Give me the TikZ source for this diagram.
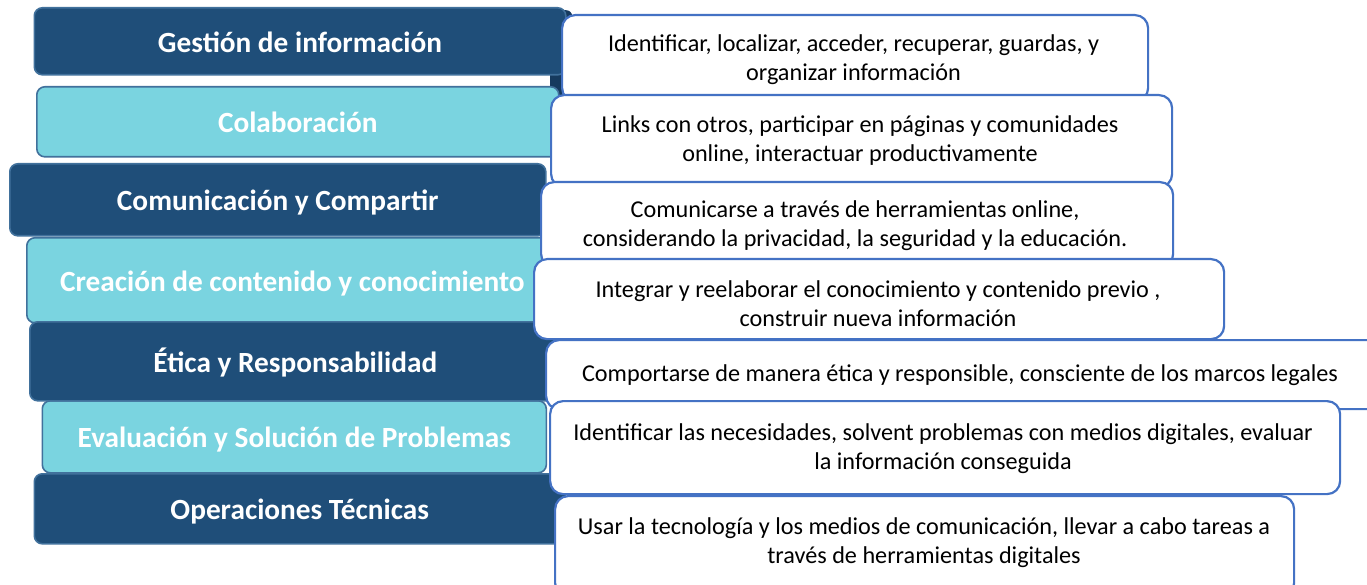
\documentclass[tikz,border=0pt]{standalone}
\usepackage{fontspec}
\setmainfont{Carlito}
\definecolor{navy}{HTML}{1F4E79}
\definecolor{navyshadow}{HTML}{163A5E}
\definecolor{cyanbox}{HTML}{7AD4E0}
\definecolor{lframe}{HTML}{41719C}
\definecolor{rframe}{HTML}{4472C4}
\begin{document}
\begin{tikzpicture}[x=1pt,y=-1pt,
  lbox/.style={draw=lframe, line width=1.6pt, rounded corners=8pt, inner sep=0pt,
    anchor=north west, text=white, font=\fontsize{29.3}{35}\selectfont\bfseries,
    text height=26pt, text depth=4pt},
  darkbox/.style={lbox, fill=navy},
  lightbox/.style={lbox, fill=cyanbox},
  shadowbox/.style={fill=navyshadow, rounded corners=6pt, inner sep=0pt, anchor=north west},
  rbox/.style={draw=rframe, fill=white, line width=2.2pt, rounded corners=13pt,
    inner sep=0pt, anchor=north west},
  rtext/.style={align=center, font=\fontsize{24.2}{29}\selectfont, text=black, inner sep=0pt}]
\useasboundingbox (0,0) rectangle (1367,585);
\clip (0,0) rectangle (1367,585);
\fill[white] (0,0) rectangle (1367,585);

% left column
\node[shadowbox, minimum width=22pt, minimum height=86pt] (S1) at (550,10) {};
\node[darkbox, minimum width=531.5pt, minimum height=67pt] (L1) at (33.5,7) {Gestión de información};
\node[lightbox, minimum width=522pt, minimum height=70pt] (L2) at (36,86) {Colaboración};
\node[darkbox, minimum width=536pt, minimum height=72pt] (L3) at (9,163) {Comunicación y Compartir};
\node[lightbox, minimum width=531pt, minimum height=85pt] (L4) at (26,237) {Creación de contenido y conocimiento};
\node[lightbox, minimum width=504pt, minimum height=72pt] (L6) at (41.5,400) {Evaluación y Solución de Problemas};
\node[darkbox, minimum width=531pt, minimum height=79pt] (L5) at (29,321) {Ética y Responsabilidad};
\node[darkbox, minimum width=531pt, minimum height=70pt] (L7) at (33.5,473) {Operaciones Técnicas};

% right column
\node[rbox, minimum width=586pt, minimum height=86pt] (R1) at (561,14) {};
\node[rtext] (T1) at (853.5,59.5) {Identificar, localizar, acceder, recuperar, guardas, y\\organizar información};
\node[rbox, minimum width=621pt, minimum height=92pt] (R2) at (550,94) {};
\node[rtext] (T2) at (860,140.5) {Links con otros, participar en páginas y comunidades\\online, interactuar productivamente};
\node[rbox, minimum width=632pt, minimum height=85pt] (R3) at (540,181) {};
\node[rtext] (T3) at (855,225.5) {Comunicarse a través de herramientas online,\\considerando la privacidad, la seguridad y la educación.};
\node[rbox, minimum width=690pt, minimum height=80pt] (R4) at (533,258) {};
\node[rtext] (T4) at (878,303.5) {Integrar y reelaborar el conocimiento y contenido previo ,\\construir nueva información};
\node[rbox, minimum width=835pt, minimum height=69pt] (R5) at (545,339) {};
\node[rtext] (T5) at (960,375.5) {Comportarse de manera ética y responsible, consciente de los marcos legales};
\node[rbox, minimum width=790pt, minimum height=93pt] (R6) at (549,400) {};
\node[rtext] (T6) at (943,449) {Identificar las necesidades, solvent problemas con medios digitales, evaluar\\la información conseguida};
\node[rbox, minimum width=739pt, minimum height=100pt] (R7) at (554,495) {};
\node[rtext] (T7) at (924,542.5) {Usar la tecnología y los medios de comunicación, llevar a cabo tareas a\\través de herramientas digitales};
\end{tikzpicture}
\end{document}
